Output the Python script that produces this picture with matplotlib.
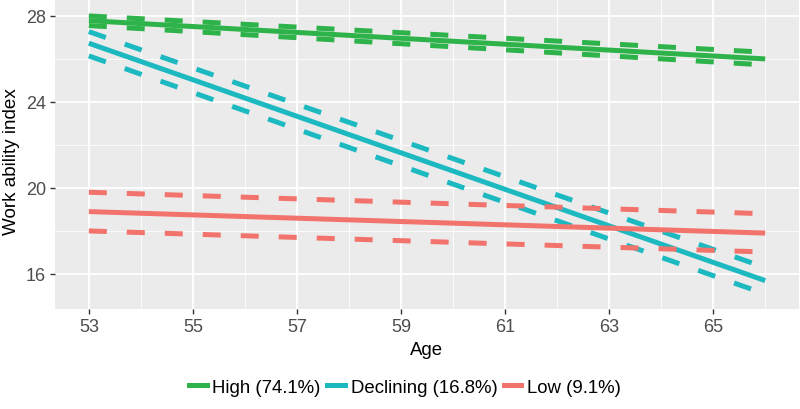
import matplotlib as mpl
mpl.use('Agg')
import matplotlib.pyplot as plt
from matplotlib.lines import Line2D

plt.rcParams['font.family'] = ['Liberation Sans', 'DejaVu Sans']

# data (fitted lines with confidence limits)
ages = [53, 66]
groups = ['High (74.1%)', 'Declining (16.8%)', 'Low (9.1%)']
colors = ['#2DB34A', '#1DB9C1', '#F2736B']
fit = [[27.78, 26.00], [26.73, 15.69], [18.90, 17.90]]
upper = [[28.00, 26.31], [27.27, 16.30], [19.80, 18.80]]
lower = [[27.55, 25.72], [26.14, 15.07], [18.00, 17.02]]

x_major = [53, 55, 57, 59, 61, 63, 65]
x_minor = [54, 56, 58, 60, 62, 64, 66]
y_major = [16, 20, 24, 28]
y_minor = [18, 22, 26]

fig = plt.figure(figsize=(8, 4.1), dpi=100)
ax = fig.add_axes([55 / 800, 1 - 310 / 410, 744 / 800, 309 / 410])
ax.set_facecolor('#EBEBEB')
for s in ax.spines.values():
    s.set_visible(False)

# grid
ax.set_xticks(x_major)
ax.set_xticks(x_minor, minor=True)
ax.set_yticks(y_major)
ax.set_yticks(y_minor, minor=True)
ax.grid(which='major', color='white', lw=1.3)
ax.grid(which='minor', color='white', lw=0.6)
ax.set_axisbelow(True)

lw = 3.6
for i in range(len(groups)):
    ax.plot(ages, fit[i], color=colors[i], lw=lw, solid_capstyle='butt')
    for band in (upper[i], lower[i]):
        ln, = ax.plot(ages, band, color=colors[i], lw=lw, dash_capstyle='butt')
        ln.set_dashes((3.6, 4.0))

ax.set_xlim(52.35, 66.65)
ax.set_ylim(14.37, 28.74)

ax.tick_params(which='major', length=3.5, width=1, color='#333333',
               labelcolor='#4D4D4D', labelsize=13, pad=3)
ax.tick_params(which='minor', length=0)

ax.set_xlabel('Age', fontsize=13.4, color='black')
ax.xaxis.set_label_coords(0.5, -0.105)
ax.set_ylabel('Work ability index', fontsize=13.6, color='black')
ax.yaxis.set_label_coords(-0.047, 0.48)

handles = [Line2D([0], [0], color=c, lw=3.6) for c in colors]
fig.legend(handles, groups, loc='center', bbox_to_anchor=(405 / 800, 1 - 388 / 410),
           ncol=3, frameon=False, fontsize=13.4, handlelength=0.95,
           handletextpad=0.3, columnspacing=0.35)

fig.savefig('out.png', dpi=100)
